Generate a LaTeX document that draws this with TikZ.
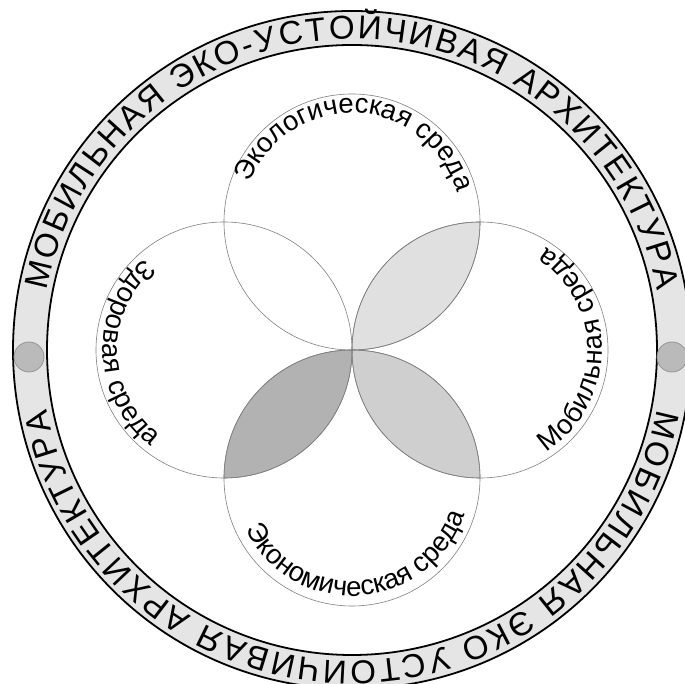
\documentclass[tikz,border=0pt]{standalone}
\usepackage{fontspec}
\setmainfont{Liberation Sans}
\usetikzlibrary{decorations.text,calc}
\newcommand{\ringfont}{\fontsize{33}{33}\selectfont}
\newcommand{\envfont}{\fontsize{27.5}{27.5}\selectfont}
\definecolor{ringfill}{gray}{0.90}
\definecolor{lensA}{gray}{0.88}
\definecolor{lensB}{gray}{0.81}
\definecolor{lensC}{gray}{0.70}
\definecolor{dotfill}{gray}{0.73}
\definecolor{dotline}{gray}{0.58}
\definecolor{envline}{gray}{0.50}
\begin{document}
\begin{tikzpicture}[x=1pt,y=1pt,
  envcircle/.style={draw=envline, line width=0.6pt},
  ringline/.style={draw=black, line width=1.8pt},
  lens/.style={fill=#1, draw=envline, line width=0.6pt},
  dot/.style={fill=dotfill, draw=dotline, line width=0.8pt},
  ringtext/.style={decorate, decoration={text along path, text align=fit to path, text={|\ringfont|#1}}},
  envtext/.style={decorate, decoration={text along path, text align=fit to path, text={|\envfont|#1}}}]
\useasboundingbox (0,0) rectangle (685,684);
\clip (0,0) rectangle (685,684);
\fill[white] (0,0) rectangle (685,684);
\coordinate (C) at (352,334);
\coordinate (T) at ($(C)+(0,128)$);
\coordinate (R) at ($(C)+(128,0)$);
\coordinate (B) at ($(C)+(0,-128)$);
\coordinate (L) at ($(C)+(-128,0)$);
% ring
\fill[ringfill, even odd rule] (C) circle[radius=339pt] (C) circle[radius=305pt];
\draw[ringline] (C) circle[radius=339pt];
\draw[ringline] (C) circle[radius=305pt];
\coordinate (DL) at (29,327);
\coordinate (DR) at (672,327);
\draw[dot] (DL) circle[radius=15pt];
\draw[dot] (DR) circle[radius=15pt];
% ring texts
\path[ringtext={МОБИЛЬНАЯ ЭКО-УСТОЙЧИВАЯ АРХИТЕКТУРА}] ($(C)+(169:311pt)$) arc[start angle=169, end angle=11, radius=311pt];
\path[ringtext={МОБИЛЬНАЯ ЭКО УСТОЙЧИВАЯ АРХИТЕКТУРА}] ($(C)+(-11:311pt)$) arc[start angle=-11, end angle=-169, radius=311pt];
% lenses
\path[lens=lensA] (C) arc[start angle=-90, end angle=0, radius=128pt] arc[start angle=90, end angle=180, radius=128pt] -- cycle;
\path[lens=lensB] (C) arc[start angle=90, end angle=0, radius=128pt] arc[start angle=270, end angle=180, radius=128pt] -- cycle;
\path[lens=lensC] (C) arc[start angle=90, end angle=180, radius=128pt] arc[start angle=270, end angle=360, radius=128pt] -- cycle;
% four circles
\draw[envcircle] (T) circle[radius=128pt];
\draw[envcircle] (R) circle[radius=128pt];
\draw[envcircle] (B) circle[radius=128pt];
\draw[envcircle] (L) circle[radius=128pt];
% circle texts
\path[envtext={Экологическая среда}] ($(T)+(159:109pt)$) arc[start angle=159, end angle=18, radius=109pt];
\path[envtext={Мобильная среда}] ($(R)+(-57:122pt)$) arc[start angle=-57, end angle=57, radius=122pt];
\path[envtext={Здоровая среда}] ($(L)+(131:121pt)$) arc[start angle=131, end angle=233, radius=121pt];
\path[envtext={Экономическая среда}] ($(B)+(206:118pt)$) arc[start angle=206, end angle=341, radius=118pt];
\end{tikzpicture}
\end{document}
